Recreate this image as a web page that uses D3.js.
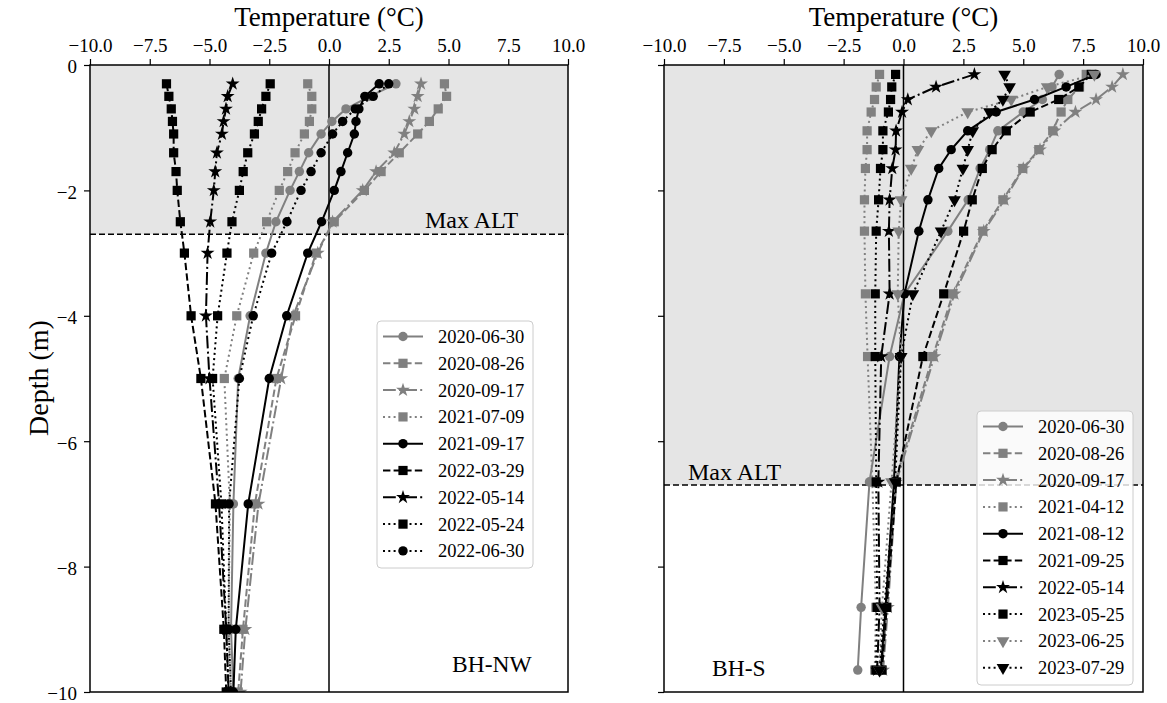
<!DOCTYPE html>
<html><head><meta charset="utf-8">
<script src="https://cdn.jsdelivr.net/npm/d3@7"></script>
<style>
body{margin:0;background:#fff}
text{font-family:"Liberation Serif","Times New Roman",serif;fill:#000}
</style>
</head><body>
<svg id="c" width="1167" height="703"></svg>
<script>
// ---------- DATA ----------
const xTicks = [-10, -7.5, -5, -2.5, 0, 2.5, 5, 7.5, 10];
const yTicks = [0, -2, -4, -6, -8, -10];

// BH-NW
const depthsNW = [-0.3,-0.5,-0.7,-0.9,-1.1,-1.4,-1.7,-2.0,-2.5,-3.0,-4.0,-5.0,-7.0,-9.0,-10.0];
const datesNW = ["2020-06-30","2020-08-26","2020-09-17","2021-07-09","2021-09-17","2022-03-29","2022-05-14","2022-05-24","2022-06-30"];
const nw_20200630 = [2.8, 1.7, 0.71, 0.12, -0.33, -0.85, -1.24, -1.63, -2.22, -2.64, -3.3, -3.8, -4.0, -4.1, -4.0];
const nw_20200826 = [4.83, 4.92, 4.57, 4.2, 3.71, 2.94, 2.18, 1.48, 0.22, -0.54, -1.4, -2.2, -3.1, -3.6, -3.8];
const nw_20200917 = [3.85, 3.71, 3.57, 3.36, 3.15, 2.73, 1.97, 1.41, 0.15, -0.47, -1.5, -2.0, -2.95, -3.5, -3.7];
const nw_20210709 = [-0.89, -0.72, -0.72, -0.82, -1.03, -1.42, -1.73, -2.08, -2.61, -3.15, -3.86, -4.38, -4.15, -4.2, -4.1];
const nw_20210917 = [2.1, 1.5, 1.25, 1.13, 1.06, 0.78, 0.5, 0.22, -0.31, -0.89, -1.77, -2.5, -3.38, -3.9, -4.0];
const nw_20220329 = [-6.8, -6.7, -6.6, -6.55, -6.5, -6.5, -6.4, -6.35, -6.22, -6.05, -5.77, -5.36, -4.75, -4.4, -4.3];
const nw_20220514 = [-4.03, -4.24, -4.31, -4.41, -4.48, -4.69, -4.76, -4.82, -4.97, -5.08, -5.15, -5.0, -4.6, -4.3, -4.2];
const nw_20220524 = [-2.46, -2.64, -2.82, -2.96, -3.12, -3.40, -3.59, -3.75, -4.06, -4.27, -4.66, -4.87, -4.5, -4.3, -4.2];
const nw_20220630 = [2.5, 1.85, 1.1, 0.57, 0.15, -0.33, -0.75, -1.17, -1.76, -2.4, -3.17, -3.75, -4.18, -4.2, -4.1];
const altNW = -2.7;

// BH-S
const depthsS = [-0.15,-0.35,-0.55,-0.75,-1.05,-1.35,-1.65,-2.15,-2.65,-3.65,-4.65,-6.65,-8.65,-9.65];
const datesS = ["2020-06-30","2020-08-26","2020-09-17","2021-04-12","2021-08-12","2021-09-25","2022-05-14","2023-05-25","2023-06-25","2023-07-29"];
const s_20200630 = [6.5, 6.2, 5.8, 5.0, 3.94, 3.6, 3.2, 2.7, 1.85, 0.04, -0.58, -1.42, -1.77, -1.91];
const s_20200826 = [7.63, 7.35, 6.86, 6.58, 6.23, 5.65, 4.98, 4.15, 3.31, 2.06, 1.22, -0.35, -0.7, -0.9];
const s_20200917 = [9.16, 8.71, 8.04, 7.18, 6.3, 5.7, 5.0, 4.22, 3.35, 2.13, 1.29, -0.3, -0.65, -0.85];
const s_20210412 = [-1.0, -1.14, -1.21, -1.35, -1.52, -1.52, -1.59, -1.63, -1.63, -1.59, -1.5, -1.3, -1.15, -1.2];
const s_20210812 = [8.04, 6.79, 5.47, 3.87, 2.68, 1.99, 1.47, 1.02, 0.64, 0.04, -0.17, -0.4, -0.75, -0.95];
const s_20210925 = [7.84, 7.32, 6.48, 5.29, 4.29, 3.7, 3.29, 2.87, 2.51, 1.68, 0.81, -0.3, -0.7, -0.9];
const s_20220514 = [2.96, 1.36, 0.18, -0.06, -0.31, -0.33, -0.47, -0.58, -0.61, -0.58, -0.93, -1.05, -1.0, -1.1];
const s_20230525 = [-0.33, -0.49, -0.54, -0.63, -0.86, -0.86, -0.96, -1.04, -1.14, -1.18, -1.18, -1.14, -1.1, -1.15];
const s_20230625 = [7.97, 6.0, 4.5, 2.68, 1.16, 0.6, 0.32, -0.1, -0.2, -0.24, -0.1, -0.5, -0.9, -1.0];
const s_20230729 = [4.22, 4.43, 4.15, 3.59, 2.89, 2.68, 2.48, 2.13, 1.57, 0.39, -0.1, -0.35, -0.8, -1.0];
const altS = -6.7;

// ---------- STYLES ----------
const GRAY = "#808080", BLACK = "#000000";
const DASH = {solid:null, dashed:"7.4,3.2", dashdot:"12.8,3.2,2,3.2", dotted:"2,3.3"};
const stylesNW = [
  {c:GRAY, d:"solid", m:"circle"},
  {c:GRAY, d:"dashed", m:"square"},
  {c:GRAY, d:"dashdot", m:"star"},
  {c:GRAY, d:"dotted", m:"square"},
  {c:BLACK, d:"solid", m:"circle"},
  {c:BLACK, d:"dashed", m:"square"},
  {c:BLACK, d:"dashdot", m:"star"},
  {c:BLACK, d:"dotted", m:"square"},
  {c:BLACK, d:"dotted", m:"circle"}
];
const stylesS = [
  {c:GRAY, d:"solid", m:"circle"},
  {c:GRAY, d:"dashed", m:"square"},
  {c:GRAY, d:"dashdot", m:"star"},
  {c:GRAY, d:"dotted", m:"square"},
  {c:BLACK, d:"solid", m:"circle"},
  {c:BLACK, d:"dashed", m:"square"},
  {c:BLACK, d:"dashdot", m:"star"},
  {c:BLACK, d:"dotted", m:"square"},
  {c:GRAY, d:"dotted", m:"tri"},
  {c:BLACK, d:"dotted", m:"tri"}
];

const panels = [
  {x0:90, x1:568, depths:depthsNW, dates:datesNW,
   values:[nw_20200630,nw_20200826,nw_20200917,nw_20210709,nw_20210917,nw_20220329,nw_20220514,nw_20220524,nw_20220630],
   styles:stylesNW, alt:altNW, name:"BH-NW", nameX:452, nameY:672, altX:425, altY:228,
   legend:{x:377, y:321, w:156, h:247}, yLabels:true},
  {x0:664, x1:1143, depths:depthsS, dates:datesS,
   values:[s_20200630,s_20200826,s_20200917,s_20210412,s_20210812,s_20210925,s_20220514,s_20230525,s_20230625,s_20230729],
   styles:stylesS, alt:altS, name:"BH-S", nameX:712, nameY:676, altX:688, altY:480,
   legend:{x:977, y:411, w:156, h:274}, yLabels:false}
];

const Y0 = 65, Y1 = 692;
const svg = d3.select("#c");

function symbolPath(m){
  const sym = {circle:d3.symbolCircle, square:d3.symbolSquare, star:d3.symbolStar, tri:d3.symbolTriangle}[m];
  const size = {circle:70, square:85, star:60, tri:70}[m];
  return d3.symbol().type(sym).size(size)();
}
function drawMarker(g, m, color, cx, cy){
  g.append("path").attr("d", symbolPath(m))
    .attr("transform", `translate(${cx},${cy})` + (m==="tri" ? " rotate(180)" : ""))
    .attr("fill", color).attr("stroke", "none");
}

panels.forEach(p => {
  const x = d3.scaleLinear().domain([-10, 10]).range([p.x0, p.x1]);
  const y = d3.scaleLinear().domain([0, -10]).range([Y0, Y1]);
  const g = svg.append("g");
  const clipId = "clip" + p.x0;
  svg.append("clipPath").attr("id", clipId).append("rect")
    .attr("x", p.x0).attr("y", Y0).attr("width", p.x1 - p.x0).attr("height", Y1 - Y0);

  // shading of active layer
  g.append("rect").attr("x", p.x0).attr("y", y(0)).attr("width", p.x1 - p.x0)
    .attr("height", y(p.alt) - y(0)).attr("fill", "#e5e5e5");

  // zero line
  g.append("line").attr("x1", x(0)).attr("x2", x(0)).attr("y1", Y0).attr("y2", Y1)
    .attr("stroke", "#000").attr("stroke-width", 1.5);
  // Max ALT line
  g.append("line").attr("x1", p.x0).attr("x2", p.x1).attr("y1", y(p.alt)).attr("y2", y(p.alt))
    .attr("stroke", "#000").attr("stroke-width", 1.5).attr("stroke-dasharray", "6,3");
  g.append("text").attr("x", p.altX).attr("y", p.altY).attr("font-size", 24).text("Max ALT");

  // series
  const sg = g.append("g").attr("clip-path", `url(#${clipId})`);
  const line = d3.line().x(d => x(d.t)).y(d => y(d.d));
  p.values.forEach((vals, i) => {
    const st = p.styles[i];
    const pts = vals.map((t, k) => ({t, d: p.depths[k]}));
    sg.append("path").datum(pts).attr("d", line).attr("fill", "none")
      .attr("stroke", st.c).attr("stroke-width", 2)
      .attr("stroke-dasharray", DASH[st.d]);
    pts.forEach(q => drawMarker(sg, st.m, st.c, x(q.t), y(q.d)));
  });

  // frame
  g.append("rect").attr("x", p.x0).attr("y", Y0).attr("width", p.x1 - p.x0).attr("height", Y1 - Y0)
    .attr("fill", "none").attr("stroke", "#000").attr("stroke-width", 1.5);

  // axes
  const fmtX = d3.format(".1f");
  const ax = g.append("g").attr("transform", `translate(0,${Y0})`)
    .call(d3.axisTop(x).tickValues(xTicks).tickFormat(fmtX).tickSize(6).tickPadding(7));
  const ay = g.append("g").attr("transform", `translate(${p.x0},0)`)
    .call(d3.axisLeft(y).tickValues(yTicks).tickFormat(p.yLabels ? d3.format("d") : () => "").tickSize(6).tickPadding(7));
  [ax, ay].forEach(a => {
    a.select(".domain").remove();
    a.selectAll(".tick line").attr("stroke", "#000").attr("stroke-width", 1.2);
    a.selectAll(".tick text").attr("font-family", "Liberation Serif").attr("font-size", 19).attr("fill", "#000");
  });
  ay.selectAll(".tick text").attr("dy", "0.42em");

  // title
  g.append("text").attr("x", (p.x0 + p.x1) / 2).attr("y", 26).attr("text-anchor", "middle")
    .attr("font-size", 27).text("Temperature (°C)");

  // panel name
  g.append("text").attr("x", p.nameX).attr("y", p.nameY).attr("font-size", 23.5).text(p.name);

  // legend
  const L = p.legend;
  const lg = g.append("g");
  lg.append("rect").attr("x", L.x).attr("y", L.y).attr("width", L.w).attr("height", L.h)
    .attr("rx", 4).attr("fill", "#fff").attr("fill-opacity", 0.8)
    .attr("stroke", "#cccccc").attr("stroke-width", 1);
  p.dates.forEach((dt, i) => {
    const st = p.styles[i];
    const cy = L.y + 15.5 + i * 26.8;
    lg.append("line").attr("x1", L.x + 6).attr("x2", L.x + 46).attr("y1", cy).attr("y2", cy)
      .attr("stroke", st.c).attr("stroke-width", 2).attr("stroke-dasharray", DASH[st.d]);
    drawMarker(lg, st.m, st.c, L.x + 26, cy);
    lg.append("text").attr("x", L.x + 61).attr("y", cy + 6.5).attr("font-size", 18.5).text(dt);
  });
});

// y label
svg.append("text").attr("transform", "translate(48,378) rotate(-90)").attr("text-anchor", "middle")
  .attr("font-size", 28).text("Depth (m)");
</script>
</body></html>
